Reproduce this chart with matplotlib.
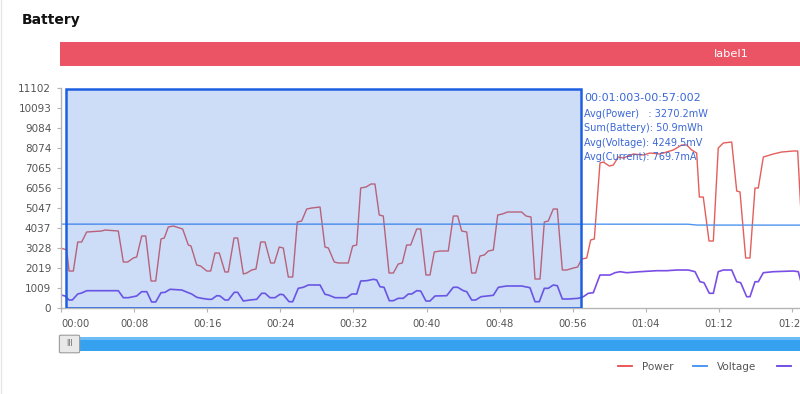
import matplotlib.pyplot as plt
from matplotlib.patches import Rectangle, FancyBboxPatch
from matplotlib.lines import Line2D

# values (seconds, mW / mV / mA)
power_t = [0, 0.62, 0.88, 1.35, 1.83, 2.26, 2.81, 4.45, 4.81, 6.27, 6.82, 7.30, 7.91, 8.28, 8.83, 9.27,
           9.85, 10.36, 10.94, 11.30, 11.74, 12.29, 13.31, 13.93, 14.22, 14.85, 15.28, 15.94, 16.38, 16.85,
           17.32, 17.94, 18.30, 18.93, 19.33, 19.95, 20.32, 20.86, 21.33, 21.85, 22.32, 22.94, 23.34, 23.88,
           24.32, 24.87, 25.35, 25.85, 26.33, 26.88, 27.43, 28.34, 28.88, 29.25, 29.90, 30.34, 31.43, 31.91,
           32.35, 32.79, 33.37, 33.92, 34.35, 34.82, 35.26, 35.89, 36.36, 36.90, 37.34, 37.82, 38.26, 38.92,
           39.35, 39.93, 40.37, 40.84, 41.47, 42.37, 42.92, 43.40, 43.84, 44.39, 44.93, 45.37, 45.84, 46.31,
           46.75, 47.30, 47.78, 48.28, 48.87, 50.40, 50.88, 51.42, 51.86, 52.41, 52.88, 53.31, 53.86, 54.30,
           54.85, 55.33, 56.05, 56.53, 56.97, 57.52, 57.95, 58.35, 58.97, 59.33, 59.99, 60.43, 60.97, 61.52,
           62.61, 63.71, 64.44, 65.54, 66.99, 67.91, 68.46, 69.00, 69.55, 69.84, 70.27, 70.90, 71.37, 71.91,
           72.46, 73.38, 73.93, 74.29, 74.91, 75.38, 75.93, 76.29, 76.84, 77.21, 77.93, 78.85, 80.12, 80.60,
           81.10]
power = [3028, 2927, 1867, 1867, 3330, 3330, 3835, 3885, 3936, 3885, 2321, 2321, 2523, 2573, 3633, 3633,
         1362, 1362, 3482, 3532, 4087, 4138, 3986, 3179, 3129, 2170, 2119, 1867, 1867, 2775,
         2775, 1817, 1817, 3532, 3532, 1716, 1766, 1917, 1968, 3330, 3330, 2271, 2271, 3078,
         3028, 1564, 1564, 4340, 4390, 4996, 5046, 5096, 3078, 3028, 2321, 2271, 2271, 3129,
         3179, 6055, 6106, 6257, 6257, 4693, 4642, 1766, 1766, 2220, 2271, 3179, 3179, 3986,
         3986, 1665, 1665, 2826, 2876, 2876, 4642, 4642, 3885, 3835, 1766, 1766, 2624, 2674,
         2876, 2927, 4693, 4743, 4844, 4844, 4642, 4592, 1463, 1463, 4340, 4390, 4996, 4996,
         1917, 1917, 2018, 2069, 2473, 2523, 3431, 3482, 7317, 7367, 7165, 7216, 7619, 7569,
         7771, 7720, 7821, 7771, 7973, 8225, 8225, 7973, 7821, 5601, 5601, 3381, 3381, 8074,
         8326, 8376, 5904, 5853, 2523, 2523, 6055, 6055, 7619, 7670, 7771, 7872, 7922, 7922,
         3600]

current_t = [0, 0.44, 0.88, 1.24, 1.83, 2.26, 2.81, 6.27, 6.82, 7.36, 8.28, 8.83, 9.38, 9.92, 10.36,
             10.94, 11.38, 11.93, 13.21, 13.93, 14.30, 14.85, 15.39, 16.12, 16.49, 17.04, 17.40, 17.94,
             18.30, 18.96, 19.33, 19.95, 20.68, 21.41, 21.96, 22.32, 22.87, 23.41, 23.96, 24.32, 24.95,
             25.35, 25.96, 26.51, 27.06, 28.34, 28.88, 29.25, 29.98, 31.26, 31.81, 32.35, 32.79, 33.45,
             34.17, 34.54, 34.90, 35.34, 35.92, 36.36, 36.90, 37.45, 38.00, 38.37, 38.92, 39.35, 39.93,
             40.37, 40.92, 42.20, 42.92, 43.40, 44.02, 44.39, 44.93, 45.37, 45.95, 47.30, 47.85, 48.76,
             50.40, 51.31, 51.86, 52.33, 52.88, 53.31, 53.86, 54.30, 54.85, 55.50, 56.60, 57.15, 57.69,
             58.24, 58.97, 60.07, 60.61, 61.16, 61.89, 63.35, 65.17, 66.27, 67.36, 68.63, 69.37, 69.91,
             70.35, 70.93, 71.37, 71.91, 72.46, 73.38, 73.93, 74.36, 75.02, 75.38, 75.93, 76.29, 76.84,
             77.93, 80.12, 80.67, 81.20]
current = [656, 606, 404, 404, 706, 757, 873, 873, 520, 520, 606, 823, 823, 303, 303,
           772, 792, 944, 908, 772, 706, 540, 489, 439, 439, 621, 606, 404,
           404, 792, 792, 353, 404, 439, 742, 742, 520, 520, 691, 671, 318,
           318, 994, 1045, 1161, 1161, 691, 656, 520, 520, 706, 706, 1362, 1378,
           1448, 1413, 1075, 1045, 368, 368, 489, 489, 706, 706, 873, 858, 353,
           353, 606, 621, 1045, 1045, 873, 823, 404, 404, 570, 641, 1045, 1110,
           1110, 1024, 318, 318, 994, 994, 1161, 1125, 454, 454, 489, 570, 742,
           772, 1665, 1665, 1781, 1832, 1781, 1832, 1882, 1882, 1917, 1917, 1832, 1327,
           1277, 742, 742, 1832, 1917, 1917, 1327, 1277, 570, 570, 1327, 1327, 1781,
           1832, 1867, 1832, 900]

voltage_t = [0, 30, 60, 68.6, 69.6, 81.2]
voltage = [4232, 4232, 4230, 4228, 4185, 4182]

y_ticks = [0, 1009, 2019, 3028, 4037, 5047, 6056, 7065, 8074, 9084, 10093, 11102]
x_ticks = [0, 8, 16, 24, 32, 40, 48, 56, 64, 72, 80]
x_labels = ['00:00', '00:08', '00:16', '00:24', '00:32', '00:40', '00:48', '00:56', '01:04', '01:12', '01:20']

sel_start, sel_end = 0.55, 56.9
summary = ['00:01:003-00:57:002',
           'Avg(Power)   : 3270.2mW',
           'Sum(Battery): 50.9mWh',
           'Avg(Voltage): 4249.5mV',
           'Avg(Current): 769.7mA']

W, H = 800, 394


def fx(x):
    return x / W


def fy(y):
    return 1 - y / H


fig = plt.figure(figsize=(8, 3.94), dpi=100)
fig.patch.set_facecolor('white')

# card border + title
fig.add_artist(Line2D([fx(1), fx(1)], [0, 1], color='#e6e6e6', lw=1))
fig.text(fx(22), fy(20), 'Battery', fontsize=10, fontweight='bold', color='#111111', va='center', ha='left')

# red label band
fig.add_artist(Rectangle((fx(60), fy(66)), fx(800 - 60), 24 / H, facecolor='#eb5465', edgecolor='none'))
fig.text(fx(731), fy(54), 'label1', fontsize=8.2, color='white', va='center', ha='center')

ax = fig.add_axes([fx(61), fy(308), fx(800 - 61), 220 / H])
ax.set_facecolor('white')
ax.plot(power_t, power, color='#e35f5c', lw=1)
ax.plot(voltage_t, voltage, color='#4f94ef', lw=1)
ax.plot(current_t, current, color='#7a4ee6', lw=1.2)

ax.add_patch(Rectangle((sel_start, 0), sel_end - sel_start, 11050, facecolor='#2f6fe0', alpha=0.24,
                       edgecolor='none', zorder=5))
ax.add_patch(Rectangle((sel_start, 0), sel_end - sel_start, 11050, facecolor='none',
                       edgecolor='#1e5fe2', lw=1.8, zorder=6))

ax.set_xlim(0, (800 - 61) / 9.14)
ax.set_ylim(0, 11102)
ax.set_yticks(y_ticks)
ax.set_yticklabels([str(v) for v in y_ticks])
ax.set_xticks(x_ticks)
ax.set_xticklabels(x_labels)
ax.get_xticklabels()[0].set_ha('left')
for s in ['top', 'right']:
    ax.spines[s].set_visible(False)
for s in ['left', 'bottom']:
    ax.spines[s].set_color('#b5b5b5')
    ax.spines[s].set_linewidth(1)
ax.tick_params(axis='y', length=3, width=0.8, color='#b5b5b5', labelsize=7.5, labelcolor='#555555', pad=4)
ax.tick_params(axis='x', length=3, width=0.8, color='#b5b5b5', labelsize=7.2, labelcolor='#555555', pad=5)

# selection summary
fig.text(fx(584), fy(98), summary[0], fontsize=8, color='#3b68d6', va='center', ha='left')
for i, line in enumerate(summary[1:]):
    fig.text(fx(584), fy(114 + 14.3 * i), line, fontsize=7, color='#3b68d6', va='center', ha='left')

# data zoom slider
fig.add_artist(Rectangle((fx(79), fy(351)), fx(800 - 79), 14 / H, facecolor='#36a1ef', edgecolor='none'))
fig.add_artist(Rectangle((fx(79), fy(340)), fx(800 - 79), 3 / H, facecolor='#6cbdf5', edgecolor='none'))
fig.add_artist(FancyBboxPatch((fx(61), fy(352)), fx(17), 16 / H, boxstyle='round,pad=0.002',
                              facecolor='#e9e9e9', edgecolor='#9c9c9c', lw=0.8))
fig.text(fx(69.5), fy(344), 'III', fontsize=5.5, color='#666666', va='center', ha='center')

# legend
legend_items = [('Power', '#e84a4a', 618), ('Voltage', '#3f8ef0', 693), ('Current', '#6a3fe6', 777)]
for name, col, x0 in legend_items:
    fig.add_artist(Line2D([fx(x0), fx(x0 + 14)], [fy(366), fy(366)], color=col, lw=1.3))
    fig.text(fx(x0 + 24), fy(367), name, fontsize=7.5, color='#555555', va='center', ha='left')

fig.savefig('out.png', dpi=100)
